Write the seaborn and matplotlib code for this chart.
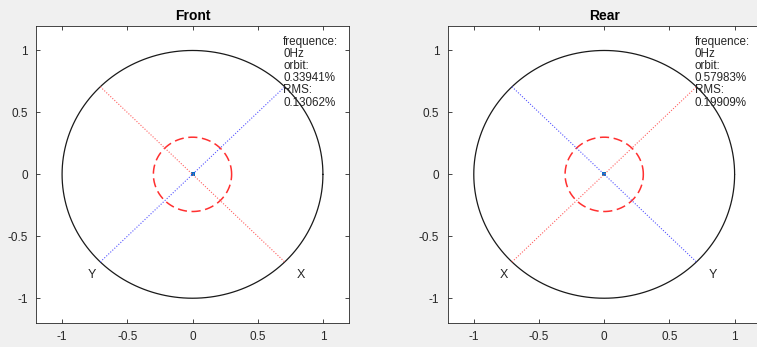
import numpy as np
import pandas as pd
import seaborn as sns
import matplotlib
matplotlib.use("Agg")
import matplotlib.pyplot as plt

sns.set_style("white")
plt.rcParams['font.family'] = ['Liberation Sans', 'DejaVu Sans']

# ---- data ----
titles = ["Front", "Rear"]
frequence = ["0Hz", "0Hz"]
orbit = ["0.33941%", "0.57983%"]
rms = ["0.13062%", "0.19909%"]
outer_radius = 1.0
inner_radius = 0.3
diag = 0.7071
# direction labels: (left label, right label)
dir_labels = [("Y", "X"), ("X", "Y")]
# colour of the line from lower-left to upper-right, and of upper-left to lower-right
diag_colors = [("#5555ff", "#ff6060"), ("#ff6060", "#5555ff")]
ticks = [-1, -0.5, 0, 0.5, 1]
tick_labels = ["-1", "-0.5", "0", "0.5", "1"]

theta = np.linspace(0, 2 * np.pi, 361)

W, H = 757, 347
fig = plt.figure(figsize=(W / 100, H / 100), dpi=100, facecolor="#f0f0f0")

ax_lefts = [36, 447.7]
for i in range(2):
    ax = fig.add_axes([ax_lefts[i] / W, (H - 323) / H, 313 / W, 297.3 / H])
    ax.set_facecolor("white")
    outer = pd.DataFrame({"x": outer_radius * np.cos(theta), "y": outer_radius * np.sin(theta)})
    inner = pd.DataFrame({"x": inner_radius * np.cos(theta), "y": inner_radius * np.sin(theta)})
    sns.lineplot(data=outer, x="x", y="y", sort=False, estimator=None, color="#1a1a1a", lw=0.9, ax=ax)
    sns.lineplot(data=inner, x="x", y="y", sort=False, estimator=None, color="#ff3030",
                 lw=1.1, ax=ax, dashes=False, linestyle=(0, (6, 3)))
    d1 = pd.DataFrame({"x": [-diag, diag], "y": [-diag, diag]})
    d2 = pd.DataFrame({"x": [-diag, diag], "y": [diag, -diag]})
    sns.lineplot(data=d1, x="x", y="y", sort=False, estimator=None, color=diag_colors[i][0],
                 lw=0.8, linestyle=(0, (1, 1.5)), ax=ax)
    sns.lineplot(data=d2, x="x", y="y", sort=False, estimator=None, color=diag_colors[i][1],
                 lw=0.8, linestyle=(0, (1, 1.5)), ax=ax)
    sns.scatterplot(x=[0], y=[0], color="#0072BD", s=10, marker="s", linewidth=0, ax=ax)

    ax.text(-0.77, -0.81, dir_labels[i][0], fontsize=9, ha="center", va="center", color="#262626")
    ax.text(0.83, -0.81, dir_labels[i][1], fontsize=9, ha="center", va="center", color="#262626")
    info = "frequence:\n" + frequence[i] + "\norbit:\n" + orbit[i] + "\nRMS:\n" + rms[i]
    ax.text(0.695, 1.12, info, fontsize=8.4, ha="left", va="top", color="#262626",
            linespacing=1.02)

    ax.set_xlim(-1.2, 1.2)
    ax.set_ylim(-1.2, 1.2)
    ax.set_xticks(ticks)
    ax.set_xticklabels(tick_labels)
    ax.set_yticks(ticks)
    ax.set_yticklabels(tick_labels)
    ax.set_xlabel("")
    ax.set_ylabel("")
    ax.tick_params(direction="in", length=3, width=0.6, colors="#262626", labelsize=8.5,
                   top=True, right=True, bottom=True, left=True, pad=6)
    for s in ax.spines.values():
        s.set_color("#262626")
        s.set_linewidth(0.6)
    ax.set_title(titles[i], fontsize=10, fontweight="bold", color="black", pad=4)

fig.savefig("out.png", dpi=100, facecolor=fig.get_facecolor())
